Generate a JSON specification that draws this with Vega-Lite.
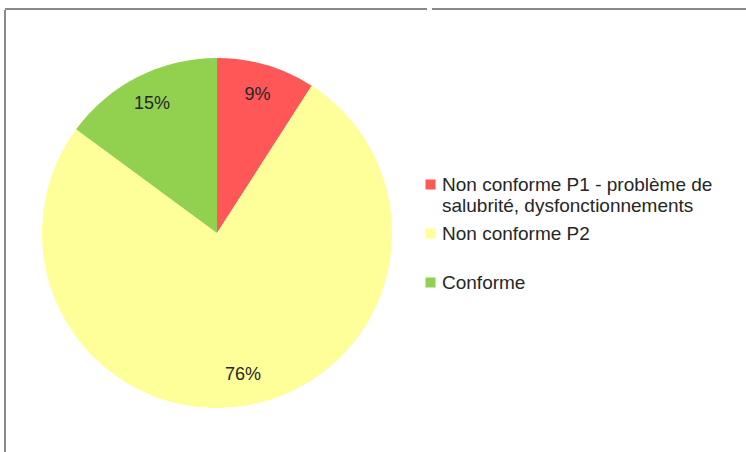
{
  "$schema": "https://vega.github.io/schema/vega-lite/v6.json",
  "autosize": {"type": "pad"},
  "padding": {"left": 4, "top": 8, "right": 0, "bottom": 0},
  "background": "white",
  "spacing": 0,
  "config": {
    "font": "Liberation Sans",
    "concat": {"spacing": 0}
  },
  "hconcat": [
    {
      "width": 424,
      "height": 448,
      "view": {"stroke": "#898989", "strokeWidth": 2, "strokeJoin": "bevel", "strokeDash": [422, 874, 447, 1]},
      "data": {
        "values": [
          {"categorie": "Non conforme P1 - problème de salubrité, dysfonctionnements", "part": 9.1, "label": "9%", "rang": 1},
          {"categorie": "Non conforme P2", "part": 76.0, "label": "76%", "rang": 2},
          {"categorie": "Conforme", "part": 14.9, "label": "15%", "rang": 3}
        ]
      },
      "encoding": {
        "theta": {"field": "part", "type": "quantitative", "stack": true},
        "order": {"field": "rang", "type": "quantitative"}
      },
      "layer": [
        {
          "mark": {"type": "arc", "radius": 175},
          "encoding": {
            "color": {
              "field": "categorie",
              "type": "nominal",
              "sort": ["Non conforme P1 - problème de salubrité, dysfonctionnements", "Non conforme P2", "Conforme"],
              "scale": {
                "domain": ["Non conforme P1 - problème de salubrité, dysfonctionnements", "Non conforme P2", "Conforme"],
                "range": ["#FF5757", "#FFFF99", "#92D050"]
              },
              "legend": {
                "title": null,
                "orient": "none",
                "legendX": 416,
                "legendY": 166,
                "symbolType": "square",
                "symbolSize": 100,
                "symbolStrokeWidth": 0,
                "symbolOpacity": 1,
                "labelFont": "Liberation Sans",
                "labelFontSize": 19,
                "labelColor": "#262626",
                "labelLimit": 400,
                "labelOffset": 2,
                "rowPadding": 8,
                "labelExpr": "datum.label == 'Non conforme P1 - problème de salubrité, dysfonctionnements' ? ['Non conforme P1 - problème de', 'salubrité, dysfonctionnements'] : [datum.label, ' ']"
              }
            }
          }
        },
        {
          "mark": {"type": "text", "radius": 144, "fontSize": 18, "font": "Liberation Sans", "color": "#262626", "align": "center", "baseline": "middle"},
          "encoding": {
            "text": {"field": "label", "type": "nominal"}
          }
        }
      ]
    },
    {
      "width": 316,
      "height": 448,
      "view": {"stroke": "#898989", "strokeWidth": 2, "strokeJoin": "bevel", "strokeDash": [0, 1, 318, 2000]},
      "data": {"values": []},
      "mark": "point",
      "encoding": {}
    }
  ]
}
